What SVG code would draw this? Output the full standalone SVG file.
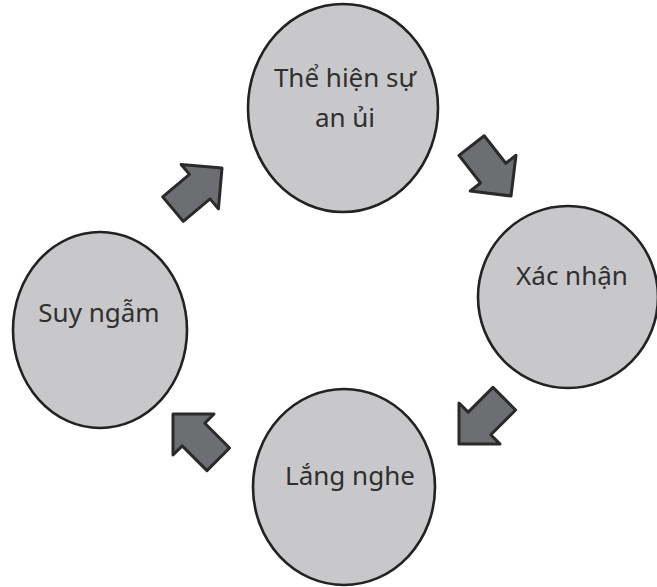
<svg xmlns="http://www.w3.org/2000/svg" width="657" height="587" viewBox="0 0 657 587">
<style>
.node{fill:#c8c8ca;stroke:#222;stroke-width:2.6}
.lbl{font-family:"Noto Sans","Open Sans",sans-serif;font-size:26px;fill:#2f2f2f;text-anchor:middle}
.arr{fill:#6d6e71;stroke:#2a2a2a;stroke-width:3;stroke-linejoin:round}
</style>
<defs>
<path id="arrow" d="M0,0 L-29,-29 L-29,-16 L-64,-16 L-64,16 L-29,16 L-29,29 Z"/>
</defs>
<rect width="657" height="587" fill="#fff"/>
<g id="node-the-hien">
<ellipse class="node" cx="343" cy="108" rx="95" ry="104"/>
<text class="lbl" x="345" y="87">Thể hiện sự</text>
<text class="lbl" x="345" y="127">an ủi</text>
</g>
<g id="node-xac-nhan">
<ellipse class="node" cx="568" cy="297" rx="90" ry="91"/>
<text class="lbl" x="572" y="285">Xác nhận</text>
</g>
<g id="node-lang-nghe">
<ellipse class="node" cx="344" cy="487" rx="91" ry="98"/>
<text class="lbl" x="350" y="485">Lắng nghe</text>
</g>
<g id="node-suy-ngam">
<ellipse class="node" cx="100" cy="330" rx="87" ry="98"/>
<text class="lbl" x="99" y="322">Suy ngẫm</text>
</g>
<g id="connectors">
<use href="#arrow" class="arr" transform="translate(222,168) rotate(-40)"/>
<use href="#arrow" class="arr" transform="translate(511,196) rotate(52)"/>
<use href="#arrow" class="arr" transform="translate(459,444) rotate(135)"/>
<use href="#arrow" class="arr" transform="translate(173,414) rotate(-135)"/>
</g>
</svg>
